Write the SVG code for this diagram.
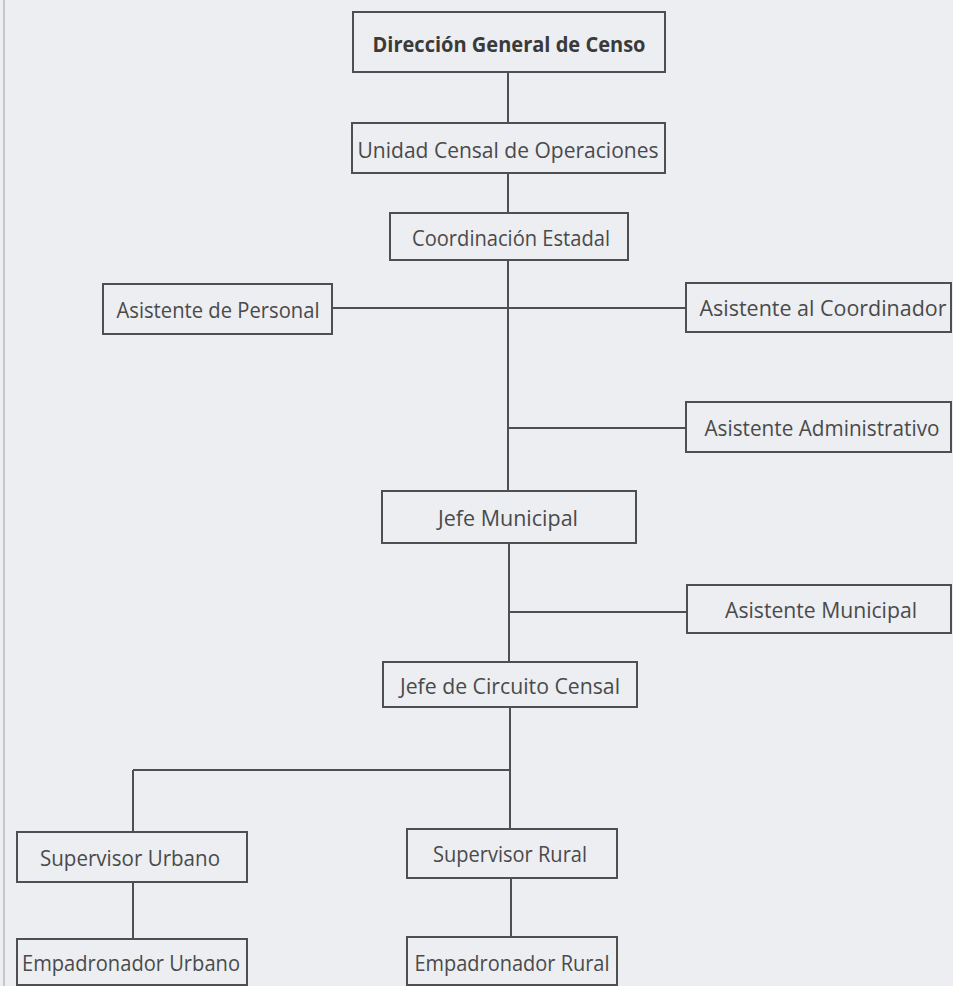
<svg xmlns="http://www.w3.org/2000/svg" width="953" height="986" viewBox="0 0 953 986">
<style>
.bg{fill:#eceef2}
.box{fill:none;stroke:#4f4f4f;stroke-width:2}
.lbl{font-family:"Open Sans","Liberation Sans",sans-serif;font-size:22px;fill:#4a4a4a;text-anchor:middle;dominant-baseline:central}
.b{font-weight:bold;fill:#3a3a3a}
.con line{stroke:#4f4f4f;stroke-width:2}
</style>
<rect class="bg" x="0" y="0" width="953" height="986"/>
<line x1="4" y1="0" x2="4" y2="986" stroke="#b8babd" stroke-width="1.5"/>
<g id="connectors" class="con">
<line x1="508" y1="72" x2="508" y2="123"/>
<line x1="508" y1="173" x2="508" y2="213"/>
<line x1="508" y1="260" x2="508" y2="491"/>
<line x1="332" y1="308" x2="686" y2="308"/>
<line x1="508" y1="428" x2="686" y2="428"/>
<line x1="509" y1="543" x2="509" y2="662"/>
<line x1="509" y1="612" x2="687" y2="612"/>
<line x1="510" y1="707" x2="510" y2="829"/>
<line x1="133" y1="770" x2="511" y2="770"/>
<line x1="133" y1="770" x2="133" y2="832"/>
<line x1="133" y1="882" x2="133" y2="939"/>
<line x1="511" y1="878" x2="511" y2="937"/>
</g>
<g id="n-direccion"><rect class="box" x="353" y="12" width="312" height="60"/><text class="lbl b" x="509" y="43" textLength="273" lengthAdjust="spacingAndGlyphs">Dirección General de Censo</text></g>
<g id="n-unidad"><rect class="box" x="352" y="123" width="313" height="50"/><text class="lbl" x="508" y="149" textLength="301" lengthAdjust="spacingAndGlyphs">Unidad Censal de Operaciones</text></g>
<g id="n-coordinacion"><rect class="box" x="390" y="213" width="238" height="47"/><text class="lbl" x="511" y="237" textLength="198" lengthAdjust="spacingAndGlyphs">Coordinación Estadal</text></g>
<g id="n-asist-personal"><rect class="box" x="103" y="284" width="229" height="50"/><text class="lbl" x="218" y="309" textLength="203" lengthAdjust="spacingAndGlyphs">Asistente de Personal</text></g>
<g id="n-asist-coord"><rect class="box" x="686" y="283" width="265" height="49"/><text class="lbl" x="823" y="307" textLength="247" lengthAdjust="spacingAndGlyphs">Asistente al Coordinador</text></g>
<g id="n-asist-admin"><rect class="box" x="686" y="402" width="265" height="50"/><text class="lbl" x="822" y="427" textLength="235" lengthAdjust="spacingAndGlyphs">Asistente Administrativo</text></g>
<g id="n-jefe-municipal"><rect class="box" x="382" y="491" width="254" height="52"/><text class="lbl" x="508" y="517" textLength="140" lengthAdjust="spacingAndGlyphs">Jefe Municipal</text></g>
<g id="n-asist-municipal"><rect class="box" x="687" y="585" width="264" height="48"/><text class="lbl" x="821" y="609" textLength="192" lengthAdjust="spacingAndGlyphs">Asistente Municipal</text></g>
<g id="n-jefe-circuito"><rect class="box" x="383" y="662" width="254" height="45"/><text class="lbl" x="510" y="685" textLength="220" lengthAdjust="spacingAndGlyphs">Jefe de Circuito Censal</text></g>
<g id="n-sup-urbano"><rect class="box" x="17" y="832" width="230" height="50"/><text class="lbl" x="130" y="857" textLength="180" lengthAdjust="spacingAndGlyphs">Supervisor Urbano</text></g>
<g id="n-sup-rural"><rect class="box" x="407" y="829" width="210" height="49"/><text class="lbl" x="510" y="853" textLength="154" lengthAdjust="spacingAndGlyphs">Supervisor Rural</text></g>
<g id="n-emp-urbano"><rect class="box" x="17" y="939" width="230" height="46"/><text class="lbl" x="131" y="962" textLength="218" lengthAdjust="spacingAndGlyphs">Empadronador Urbano</text></g>
<g id="n-emp-rural"><rect class="box" x="407" y="937" width="210" height="48"/><text class="lbl" x="512" y="962" textLength="195" lengthAdjust="spacingAndGlyphs">Empadronador Rural</text></g>
</svg>
